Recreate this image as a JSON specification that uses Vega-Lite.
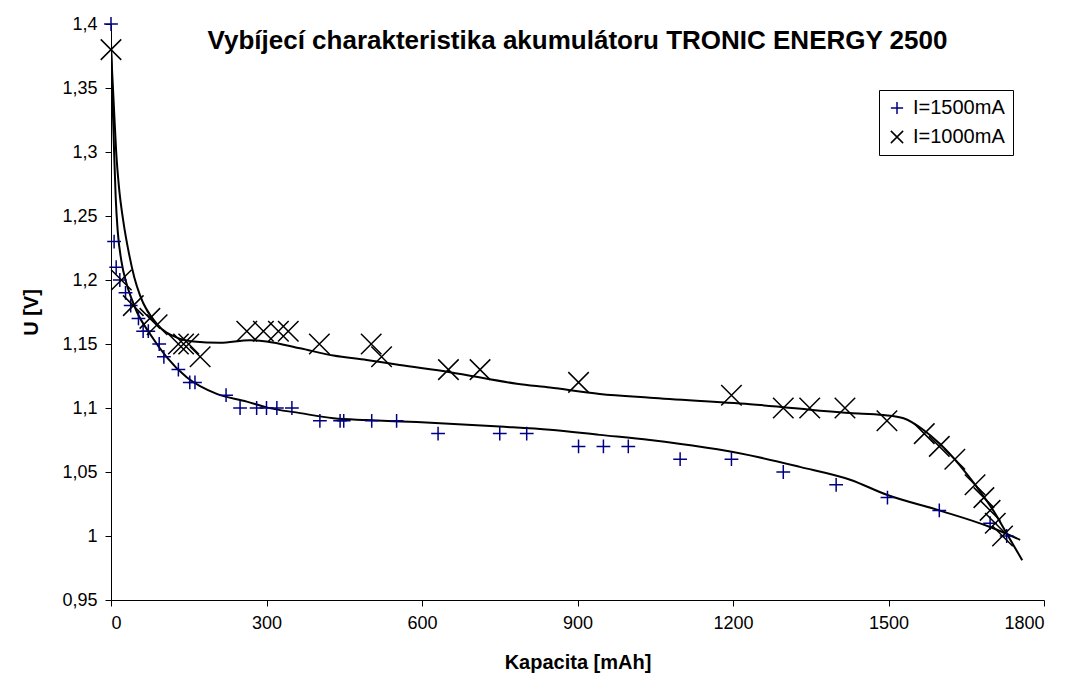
{
  "$schema": "https://vega.github.io/schema/vega-lite/v6.json",
  "autosize": "none",
  "width": 933,
  "height": 576,
  "padding": {"left": 111, "top": 24, "right": 27, "bottom": 77},
  "background": "white",
  "title": {
    "text": "Vybíjecí charakteristika akumulátoru TRONIC ENERGY 2500",
    "font": "Liberation Sans",
    "fontSize": 26,
    "fontWeight": "bold",
    "color": "black",
    "anchor": "middle",
    "frame": "group",
    "baseline": "alphabetic",
    "offset": -61
  },
  "config": {
    "view": {"stroke": null},
    "axis": {
      "domainColor": "black",
      "domainWidth": 1,
      "tickColor": "black",
      "tickSize": 6,
      "grid": false,
      "labelFont": "Liberation Sans",
      "labelFontSize": 18,
      "labelColor": "black",
      "titleFont": "Liberation Sans",
      "titleFontSize": 20,
      "titleFontWeight": "bold",
      "titleColor": "black"
    },
    "legend": {
      "labelFont": "Liberation Sans",
      "labelFontSize": 20,
      "labelColor": "black"
    }
  },
  "datasets": {
    "points": [
      {"proud": "I=1500mA", "kapacita": 0, "napeti": 1.4},
      {"proud": "I=1500mA", "kapacita": 6, "napeti": 1.23},
      {"proud": "I=1500mA", "kapacita": 10, "napeti": 1.21},
      {"proud": "I=1500mA", "kapacita": 17, "napeti": 1.2},
      {"proud": "I=1500mA", "kapacita": 28, "napeti": 1.19},
      {"proud": "I=1500mA", "kapacita": 38, "napeti": 1.18},
      {"proud": "I=1500mA", "kapacita": 53, "napeti": 1.17},
      {"proud": "I=1500mA", "kapacita": 62, "napeti": 1.16},
      {"proud": "I=1500mA", "kapacita": 72, "napeti": 1.16},
      {"proud": "I=1500mA", "kapacita": 93, "napeti": 1.15},
      {"proud": "I=1500mA", "kapacita": 102, "napeti": 1.14},
      {"proud": "I=1500mA", "kapacita": 130, "napeti": 1.13},
      {"proud": "I=1500mA", "kapacita": 152, "napeti": 1.12},
      {"proud": "I=1500mA", "kapacita": 162, "napeti": 1.12},
      {"proud": "I=1500mA", "kapacita": 222, "napeti": 1.11},
      {"proud": "I=1500mA", "kapacita": 249, "napeti": 1.1},
      {"proud": "I=1500mA", "kapacita": 281, "napeti": 1.1},
      {"proud": "I=1500mA", "kapacita": 300, "napeti": 1.1},
      {"proud": "I=1500mA", "kapacita": 320, "napeti": 1.1},
      {"proud": "I=1500mA", "kapacita": 349, "napeti": 1.1},
      {"proud": "I=1500mA", "kapacita": 403, "napeti": 1.09},
      {"proud": "I=1500mA", "kapacita": 442, "napeti": 1.09},
      {"proud": "I=1500mA", "kapacita": 449, "napeti": 1.09},
      {"proud": "I=1500mA", "kapacita": 503, "napeti": 1.09},
      {"proud": "I=1500mA", "kapacita": 551, "napeti": 1.09},
      {"proud": "I=1500mA", "kapacita": 631, "napeti": 1.08},
      {"proud": "I=1500mA", "kapacita": 750, "napeti": 1.08},
      {"proud": "I=1500mA", "kapacita": 802, "napeti": 1.08},
      {"proud": "I=1500mA", "kapacita": 902, "napeti": 1.07},
      {"proud": "I=1500mA", "kapacita": 950, "napeti": 1.07},
      {"proud": "I=1500mA", "kapacita": 998, "napeti": 1.07},
      {"proud": "I=1500mA", "kapacita": 1098, "napeti": 1.06},
      {"proud": "I=1500mA", "kapacita": 1197, "napeti": 1.06},
      {"proud": "I=1500mA", "kapacita": 1297, "napeti": 1.05},
      {"proud": "I=1500mA", "kapacita": 1399, "napeti": 1.04},
      {"proud": "I=1500mA", "kapacita": 1498, "napeti": 1.03},
      {"proud": "I=1500mA", "kapacita": 1598, "napeti": 1.02},
      {"proud": "I=1500mA", "kapacita": 1696, "napeti": 1.01},
      {"proud": "I=1500mA", "kapacita": 1728, "napeti": 1.0},
      {"proud": "I=1000mA", "kapacita": 0, "napeti": 1.38},
      {"proud": "I=1000mA", "kapacita": 20, "napeti": 1.2},
      {"proud": "I=1000mA", "kapacita": 43, "napeti": 1.18},
      {"proud": "I=1000mA", "kapacita": 75, "napeti": 1.17},
      {"proud": "I=1000mA", "kapacita": 89, "napeti": 1.165},
      {"proud": "I=1000mA", "kapacita": 130, "napeti": 1.15},
      {"proud": "I=1000mA", "kapacita": 140, "napeti": 1.15},
      {"proud": "I=1000mA", "kapacita": 150, "napeti": 1.15},
      {"proud": "I=1000mA", "kapacita": 172, "napeti": 1.14},
      {"proud": "I=1000mA", "kapacita": 262, "napeti": 1.16},
      {"proud": "I=1000mA", "kapacita": 294, "napeti": 1.16},
      {"proud": "I=1000mA", "kapacita": 323, "napeti": 1.16},
      {"proud": "I=1000mA", "kapacita": 342, "napeti": 1.16},
      {"proud": "I=1000mA", "kapacita": 402, "napeti": 1.15},
      {"proud": "I=1000mA", "kapacita": 502, "napeti": 1.15},
      {"proud": "I=1000mA", "kapacita": 522, "napeti": 1.14},
      {"proud": "I=1000mA", "kapacita": 651, "napeti": 1.13},
      {"proud": "I=1000mA", "kapacita": 712, "napeti": 1.13},
      {"proud": "I=1000mA", "kapacita": 902, "napeti": 1.12},
      {"proud": "I=1000mA", "kapacita": 1197, "napeti": 1.11},
      {"proud": "I=1000mA", "kapacita": 1297, "napeti": 1.1},
      {"proud": "I=1000mA", "kapacita": 1348, "napeti": 1.1},
      {"proud": "I=1000mA", "kapacita": 1416, "napeti": 1.1},
      {"proud": "I=1000mA", "kapacita": 1497, "napeti": 1.09},
      {"proud": "I=1000mA", "kapacita": 1569, "napeti": 1.08},
      {"proud": "I=1000mA", "kapacita": 1598, "napeti": 1.07},
      {"proud": "I=1000mA", "kapacita": 1628, "napeti": 1.06},
      {"proud": "I=1000mA", "kapacita": 1667, "napeti": 1.04},
      {"proud": "I=1000mA", "kapacita": 1684, "napeti": 1.03},
      {"proud": "I=1000mA", "kapacita": 1696, "napeti": 1.02},
      {"proud": "I=1000mA", "kapacita": 1706, "napeti": 1.01},
      {"proud": "I=1000mA", "kapacita": 1720, "napeti": 1.0}
    ],
    "trend": [
      {"proud": "I=1500mA", "kapacita": 0, "napeti": 1.385},
      {"proud": "I=1500mA", "kapacita": 3, "napeti": 1.34},
      {"proud": "I=1500mA", "kapacita": 6, "napeti": 1.3},
      {"proud": "I=1500mA", "kapacita": 9, "napeti": 1.265},
      {"proud": "I=1500mA", "kapacita": 13, "napeti": 1.238},
      {"proud": "I=1500mA", "kapacita": 20, "napeti": 1.215},
      {"proud": "I=1500mA", "kapacita": 30, "napeti": 1.197},
      {"proud": "I=1500mA", "kapacita": 40, "napeti": 1.185},
      {"proud": "I=1500mA", "kapacita": 50, "napeti": 1.175},
      {"proud": "I=1500mA", "kapacita": 75, "napeti": 1.158},
      {"proud": "I=1500mA", "kapacita": 107, "napeti": 1.14},
      {"proud": "I=1500mA", "kapacita": 146, "napeti": 1.124},
      {"proud": "I=1500mA", "kapacita": 204, "napeti": 1.111},
      {"proud": "I=1500mA", "kapacita": 262, "napeti": 1.105},
      {"proud": "I=1500mA", "kapacita": 300, "napeti": 1.1005},
      {"proud": "I=1500mA", "kapacita": 365, "napeti": 1.096},
      {"proud": "I=1500mA", "kapacita": 429, "napeti": 1.092},
      {"proud": "I=1500mA", "kapacita": 493, "napeti": 1.0906},
      {"proud": "I=1500mA", "kapacita": 590, "napeti": 1.089},
      {"proud": "I=1500mA", "kapacita": 750, "napeti": 1.0855},
      {"proud": "I=1500mA", "kapacita": 847, "napeti": 1.083},
      {"proud": "I=1500mA", "kapacita": 943, "napeti": 1.079},
      {"proud": "I=1500mA", "kapacita": 1040, "napeti": 1.075},
      {"proud": "I=1500mA", "kapacita": 1233, "napeti": 1.063},
      {"proud": "I=1500mA", "kapacita": 1329, "napeti": 1.054},
      {"proud": "I=1500mA", "kapacita": 1426, "napeti": 1.044},
      {"proud": "I=1500mA", "kapacita": 1498, "napeti": 1.032},
      {"proud": "I=1500mA", "kapacita": 1598, "napeti": 1.02},
      {"proud": "I=1500mA", "kapacita": 1696, "napeti": 1.007},
      {"proud": "I=1500mA", "kapacita": 1754, "napeti": 0.997},
      {"proud": "I=1000mA", "kapacita": 0, "napeti": 1.38},
      {"proud": "I=1000mA", "kapacita": 5, "napeti": 1.34},
      {"proud": "I=1000mA", "kapacita": 10, "napeti": 1.3},
      {"proud": "I=1000mA", "kapacita": 16, "napeti": 1.27},
      {"proud": "I=1000mA", "kapacita": 23, "napeti": 1.248},
      {"proud": "I=1000mA", "kapacita": 35, "napeti": 1.22},
      {"proud": "I=1000mA", "kapacita": 45, "napeti": 1.202},
      {"proud": "I=1000mA", "kapacita": 56, "napeti": 1.188},
      {"proud": "I=1000mA", "kapacita": 88, "napeti": 1.166},
      {"proud": "I=1000mA", "kapacita": 127, "napeti": 1.155},
      {"proud": "I=1000mA", "kapacita": 159, "napeti": 1.152},
      {"proud": "I=1000mA", "kapacita": 210, "napeti": 1.151},
      {"proud": "I=1000mA", "kapacita": 268, "napeti": 1.153},
      {"proud": "I=1000mA", "kapacita": 300, "napeti": 1.152},
      {"proud": "I=1000mA", "kapacita": 365, "napeti": 1.1466},
      {"proud": "I=1000mA", "kapacita": 429, "napeti": 1.141},
      {"proud": "I=1000mA", "kapacita": 493, "napeti": 1.1375},
      {"proud": "I=1000mA", "kapacita": 557, "napeti": 1.1336},
      {"proud": "I=1000mA", "kapacita": 654, "napeti": 1.128},
      {"proud": "I=1000mA", "kapacita": 783, "napeti": 1.119},
      {"proud": "I=1000mA", "kapacita": 847, "napeti": 1.116},
      {"proud": "I=1000mA", "kapacita": 943, "napeti": 1.111},
      {"proud": "I=1000mA", "kapacita": 1040, "napeti": 1.108},
      {"proud": "I=1000mA", "kapacita": 1233, "napeti": 1.103},
      {"proud": "I=1000mA", "kapacita": 1426, "napeti": 1.096},
      {"proud": "I=1000mA", "kapacita": 1490, "napeti": 1.0945},
      {"proud": "I=1000mA", "kapacita": 1529, "napeti": 1.092},
      {"proud": "I=1000mA", "kapacita": 1567, "napeti": 1.083},
      {"proud": "I=1000mA", "kapacita": 1599, "napeti": 1.072},
      {"proud": "I=1000mA", "kapacita": 1638, "napeti": 1.055},
      {"proud": "I=1000mA", "kapacita": 1670, "napeti": 1.0385},
      {"proud": "I=1000mA", "kapacita": 1702, "napeti": 1.02},
      {"proud": "I=1000mA", "kapacita": 1728, "napeti": 1.002},
      {"proud": "I=1000mA", "kapacita": 1758, "napeti": 0.981}
    ]
  },
  "encoding": {
    "x": {
      "field": "kapacita",
      "type": "quantitative",
      "scale": {"domain": [0, 1800], "nice": false, "zero": false},
      "axis": {
        "values": [0, 300, 600, 900, 1200, 1500, 1800],
        "format": "d",
        "labelPadding": 8,
        "title": "Kapacita [mAh]",
        "titlePadding": 20
      }
    },
    "y": {
      "field": "napeti",
      "type": "quantitative",
      "scale": {"domain": [0.95, 1.4], "nice": false, "zero": false},
      "axis": {
        "values": [0.95, 1.0, 1.05, 1.1, 1.15, 1.2, 1.25, 1.3, 1.35, 1.4],
        "labelExpr": "replace(format(datum.value, '.2~f'), '.', ',')",
        "labelPadding": 8,
        "title": "U [V]",
        "titlePadding": 20
      }
    }
  },
  "layer": [
    {
      "data": {"name": "trend"},
      "mark": {"type": "line", "color": "black", "strokeWidth": 2, "interpolate": "monotone", "clip": true},
      "encoding": {
        "detail": {"field": "proud", "type": "nominal"}
      }
    },
    {
      "data": {"name": "points"},
      "transform": [{"filter": "datum.proud === 'I=1500mA'"}],
      "mark": {"type": "point", "filled": false, "strokeWidth": 1.5, "opacity": 1, "size": 190},
      "encoding": {
        "shape": {
          "field": "proud",
          "type": "nominal",
          "scale": {
            "domain": ["I=1500mA", "I=1000mA"],
            "range": ["M-1,0L1,0M0,-1L0,1", "M-1,-1L1,1M-1,1L1,-1"]
          },
          "legend": {
            "title": null,
            "orient": "none",
            "legendX": 768,
            "legendY": 66,
            "strokeColor": "black",
            "fillColor": "white",
            "padding": 8,
            "symbolSize": 150,
            "symbolStrokeWidth": 1.5,
            "rowPadding": 9,
            "labelOffset": 6
          }
        },
        "color": {
          "field": "proud",
          "type": "nominal",
          "scale": {"domain": ["I=1500mA", "I=1000mA"], "range": ["#000080", "#000000"]},
          "legend": {
            "title": null,
            "orient": "none",
            "legendX": 768,
            "legendY": 66,
            "strokeColor": "black",
            "fillColor": "white",
            "padding": 8,
            "symbolSize": 150,
            "symbolStrokeWidth": 1.5,
            "rowPadding": 9,
            "labelOffset": 6
          }
        }
      }
    },
    {
      "data": {"name": "points"},
      "transform": [{"filter": "datum.proud === 'I=1000mA'"}],
      "mark": {"type": "point", "filled": false, "strokeWidth": 1.5, "opacity": 1, "size": 420},
      "encoding": {
        "shape": {"field": "proud", "type": "nominal"},
        "color": {"field": "proud", "type": "nominal"}
      }
    }
  ]
}
